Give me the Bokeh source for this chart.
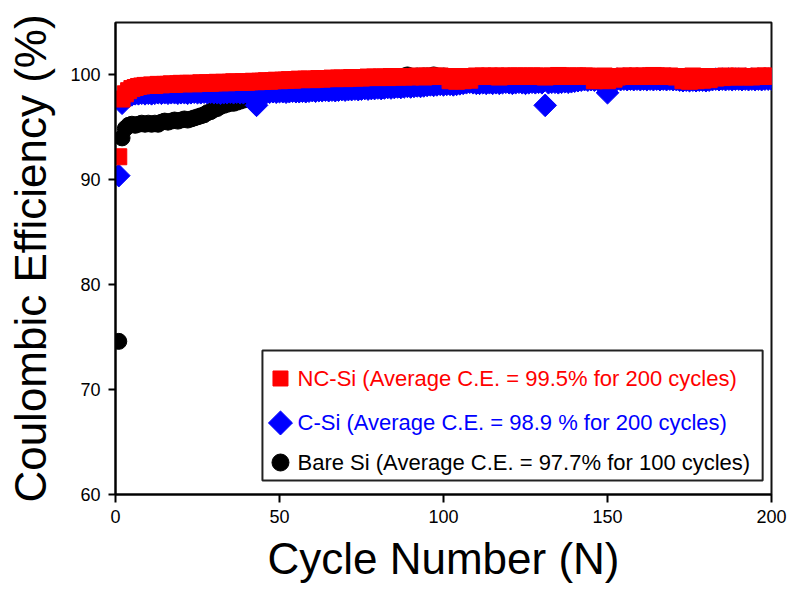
from bokeh.plotting import figure
from bokeh.models import BoxAnnotation, Label, FixedTicker, Range1d
from bokeh.embed import file_html
from bokeh.resources import INLINE
import math

# ---------------- data ----------------
nc_si = [
    92.2, 97.7, 98.2, 98.5, 98.7, 98.8, 98.9, 98.95, 99.0, 99.0,
    99.05, 99.0, 99.1, 99.05, 99.1, 99.1, 99.15, 99.1, 99.15, 99.2,
    99.15, 99.2, 99.2, 99.15, 99.2, 99.25, 99.2, 99.25, 99.2, 99.25,
    99.3, 99.25, 99.3, 99.25, 99.3, 99.35, 99.3, 99.3, 99.35, 99.3,
    99.35, 99.4, 99.35, 99.4, 99.4, 99.45, 99.4, 99.45, 99.5, 99.45,
    99.5, 99.5, 99.55, 99.5, 99.55, 99.6, 99.55, 99.6, 99.6, 99.55,
    99.6, 99.65, 99.6, 99.65, 99.65, 99.7, 99.65, 99.7, 99.7, 99.65,
    99.7, 99.75, 99.7, 99.75, 99.7, 99.75, 99.8, 99.75, 99.8, 99.75,
    99.8, 99.8, 99.75, 99.85, 99.8, 99.8, 99.85, 99.8, 99.85, 99.8,
    99.85, 99.9, 99.85, 99.8, 99.9, 99.85, 99.9, 99.85, 99.9, 99.85,
    99.85, 99.45, 99.85, 99.4, 99.8, 99.45, 99.85, 99.5, 99.85, 99.9,
    99.85, 99.9, 99.85, 99.9, 99.85, 99.9, 99.8, 99.9, 99.85, 99.9,
    99.85, 99.9, 99.9, 99.85, 99.9, 99.85, 99.9, 99.9, 99.85, 99.9,
    99.8, 99.85, 99.9, 99.85, 99.95, 99.9, 99.85, 99.9, 99.85, 99.9,
    99.9, 99.85, 99.9, 99.9, 99.85, 99.45, 99.85, 99.5, 99.9, 99.45,
    99.85, 99.6, 99.8, 99.85, 99.9, 99.85, 99.9, 99.85, 99.9, 99.85,
    99.9, 99.85, 99.9, 99.95, 99.9, 99.85, 99.9, 99.85, 99.9, 99.85,
    99.8, 99.85, 99.45, 99.85, 99.4, 99.9, 99.45, 99.85, 99.5, 99.85,
    99.55, 99.85, 99.7, 99.85, 99.75, 99.9, 99.8, 99.85, 99.8, 99.9,
    99.85, 99.8, 99.85, 99.8, 99.85, 99.9, 99.85, 99.9, 99.85, 99.9,
]

c_si = [
    90.4, 97.3, 97.8, 98.0, 98.1, 98.2, 98.2, 98.25, 98.2, 98.25,
    98.2, 98.25, 98.3, 98.25, 98.3, 98.25, 98.3, 98.3, 98.25, 98.3,
    98.3, 98.25, 98.3, 98.35, 98.3, 98.3, 98.35, 98.3, 98.35, 98.3,
    98.3, 98.25, 98.3, 98.3, 98.35, 98.3, 98.35, 98.3, 98.3, 98.35,
    98.3, 98.3, 97.1, 98.3, 98.35, 98.3, 98.35, 98.4, 98.35, 98.4,
    98.4, 98.35, 98.4, 98.45, 98.4, 98.4, 98.45, 98.4, 98.45, 98.5,
    98.45, 98.5, 98.5, 98.55, 98.5, 98.55, 98.5, 98.55, 98.6, 98.55,
    98.6, 98.6, 98.65, 98.6, 98.65, 98.7, 98.65, 98.7, 98.7, 98.75,
    98.7, 98.75, 98.8, 98.75, 98.8, 98.85, 98.8, 98.85, 98.9, 98.85,
    98.9, 98.95, 98.9, 98.95, 99.0, 99.05, 99.0, 99.05, 99.1, 99.05,
    99.1, 99.1, 99.05, 99.1, 99.15, 99.2, 99.25, 99.3, 99.25, 99.2,
    99.2, 99.25, 99.2, 99.25, 99.2, 99.25, 99.2, 99.25, 99.3, 99.25,
    99.2, 99.25, 99.3, 99.25, 99.2, 99.25, 99.3, 99.25, 99.3, 99.25,
    97.1, 99.25, 99.3, 99.3, 99.25, 99.3, 99.35, 99.3, 99.35, 99.4,
    99.45, 99.5, 99.55, 99.5, 99.55, 99.5, 99.55, 99.5, 99.55, 98.3,
    99.5, 99.55, 99.6, 99.55, 99.6, 99.55, 99.6, 99.55, 99.6, 99.55,
    99.6, 99.55, 99.6, 99.55, 99.6, 99.55, 99.6, 99.55, 99.6, 99.55,
    99.55, 99.5, 99.45, 99.5, 99.45, 99.5, 99.45, 99.5, 99.5, 99.45,
    99.5, 99.55, 99.6, 99.55, 99.6, 99.55, 99.6, 99.55, 99.6, 99.6,
    99.55, 99.6, 99.55, 99.6, 99.55, 99.6, 99.55, 99.6, 99.6, 99.6,
]

bare_si = [
    74.6, 94.0, 94.9, 95.2, 95.3, 95.2, 95.3, 95.4, 95.3, 95.4,
    95.3, 95.4, 95.3, 95.5, 95.6, 95.5, 95.6, 95.7, 95.6, 95.7,
    95.8, 95.7, 95.8, 95.9, 96.0, 96.1, 96.2, 96.4, 96.5, 96.7,
    96.8, 97.0, 97.1, 97.2, 97.3, 97.3, 97.4, 97.5, 97.6, 97.7,
    97.9, 97.9, 98.0, 98.1, 98.2, 98.3, 98.3, 98.4, 98.5, 98.5,
    98.6, 98.6, 98.7, 98.8, 98.8, 98.9, 98.9, 99.0, 99.0, 99.1,
    99.1, 99.1, 99.2, 99.2, 99.3, 99.3, 99.3, 99.4, 99.4, 99.4,
    99.5, 99.5, 99.5, 99.5, 99.6, 99.6, 99.6, 99.6, 99.7, 99.7,
    99.7, 99.7, 99.7, 99.8, 99.8, 99.8, 99.8, 99.9, 100.0, 99.9,
    99.8, 99.9, 99.8, 99.9, 99.9, 99.9, 100.0, 99.9, 99.8, 99.9,
]

nc_cycles = list(range(1, len(nc_si) + 1))
c_cycles = list(range(1, len(c_si) + 1))
bare_cycles = list(range(1, len(bare_si) + 1))

x_ticks = [0, 50, 100, 150, 200]
y_ticks = [60, 70, 80, 90, 100]

labels = [
    "NC-Si (Average C.E. = 99.5% for 200 cycles)",
    "C-Si (Average C.E. = 98.9 % for 200 cycles)",
    "Bare Si (Average C.E. = 97.7% for 100 cycles)",
]

# ---------------- figure ----------------
FONT = "Liberation Sans"
RED, BLUE, BLACK = "#ff0000", "#0000ff", "#000000"

p = figure(width=789, height=589, x_range=Range1d(0, 200), y_range=Range1d(60, 105),
           output_backend="svg", toolbar_location=None,
           min_border_left=115, min_border_right=18, min_border_top=22, min_border_bottom=95)

p.background_fill_color = "white"
p.border_fill_color = "white"
p.outline_line_color = "#111111"
p.outline_line_width = 2
p.xgrid.visible = False
p.ygrid.visible = False

p.xaxis.ticker = FixedTicker(ticks=x_ticks)
p.yaxis.ticker = FixedTicker(ticks=y_ticks)
p.xaxis.axis_label = "Cycle Number (N)"
p.yaxis.axis_label = "Coulombic Efficiency (%)"

p.axis.axis_line_width = 2
p.axis.axis_line_color = "black"
p.axis.major_tick_line_width = 2
p.axis.major_tick_line_color = "black"
p.axis.major_tick_in = 0
p.axis.minor_tick_line_color = None
p.axis.major_label_text_font = FONT
p.axis.major_label_text_font_size = "18px"
p.axis.major_label_text_color = "black"
p.axis.axis_label_text_font = FONT
p.axis.axis_label_text_font_size = "44px"
p.axis.axis_label_text_font_style = "normal"
p.axis.axis_label_text_color = "black"
p.xaxis.major_tick_out = 8
p.yaxis.major_tick_out = 7
p.xaxis.major_label_standoff = 7
p.yaxis.major_label_standoff = 8
p.xaxis.axis_label_standoff = 8
p.yaxis.axis_label_standoff = 12

# legend box (drawn beneath glyphs)
box = BoxAnnotation(left=44.8, right=197.3, bottom=61.33, top=73.73,
                    fill_color="white", fill_alpha=1.0,
                    line_color="#222222", line_alpha=1.0, line_width=2, level="underlay")
p.add_layout(box)

# data series: black first, then blue, red on top
p.scatter(bare_cycles, bare_si, marker="circle", size=16, color=BLACK)
p.scatter(c_cycles, c_si, marker="square", angle=math.pi / 4, size=16, color=BLUE)
p.scatter(nc_cycles, nc_si, marker="square", size=16, color=RED)

# legend entries
leg_x_marker = 50.3
leg_x_text = 55.5
leg_rows = [71.06, 66.82, 63.05]
p.scatter([leg_x_marker], [leg_rows[0]], marker="square", size=15, color=RED)
p.scatter([leg_x_marker], [leg_rows[1]], marker="square", angle=math.pi / 4, size=17, color=BLUE)
p.scatter([leg_x_marker], [leg_rows[2]], marker="circle", size=17, color=BLACK)
for txt, yy, col in zip(labels, leg_rows, [RED, BLUE, BLACK]):
    p.add_layout(Label(x=leg_x_text, y=yy, text=txt, text_color=col,
                       text_font=FONT, text_font_size="22px", text_baseline="middle"))

open("out.html", "w").write(file_html(p, INLINE))
